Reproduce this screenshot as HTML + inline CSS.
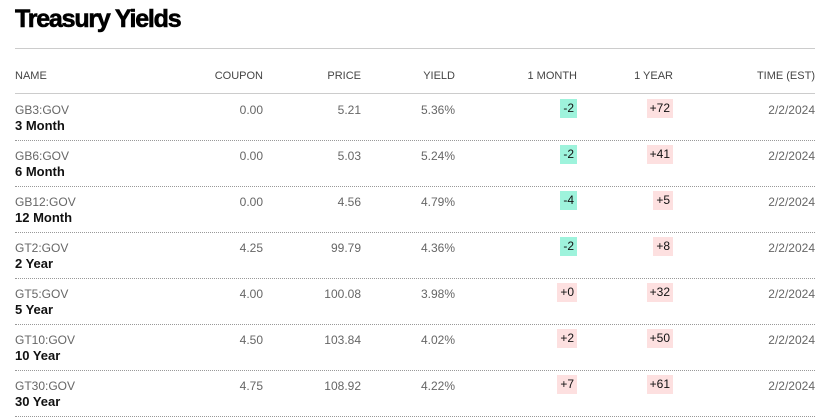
<!DOCTYPE html>
<html><head><style>
body{margin:0;width:829px;height:418px;background:#fff;font-family:"Liberation Sans",sans-serif;position:relative;overflow:hidden}
.t{position:absolute;left:15px;top:5px;font-size:25px;font-weight:bold;letter-spacing:-1.2px;color:#000;-webkit-text-stroke:0.6px #000}
.hl{position:absolute;left:15px;width:800px;height:0;border-top:1px solid #ccc}
.h{position:absolute;top:70px;font-size:11px;color:#444;text-align:right}
.row{position:absolute;left:15px;width:800px;height:46px;border-bottom:1px dotted #999}
.c{position:absolute;top:9px;font-size:12px;color:#666;text-align:right}
.tk{position:absolute;left:0;top:9px;font-size:12px;color:#666}
.nm{position:absolute;left:0;top:24px;font-size:13px;font-weight:bold;color:#111}
.b{position:absolute;top:5px;font-size:12px;color:#111;padding:3px 3px;line-height:13px}
.g{background:#9ef3dc}.r{background:#fde0e0}
</style></head><body>
<div class="t">Treasury Yields</div>
<div class="hl" style="top:48px"></div>
<div class="h" style="left:15px;text-align:left">NAME</div>
<div class="h" style="right:566px">COUPON</div>
<div class="h" style="right:468px">PRICE</div>
<div class="h" style="right:374px">YIELD</div>
<div class="h" style="right:252px">1 MONTH</div>
<div class="h" style="right:156px">1 YEAR</div>
<div class="h" style="right:14px">TIME (EST)</div>
<div class="hl" style="top:93px"></div>
<div id="rows"></div>
<script>
var d=[["GB3:GOV","3 Month","0.00","5.21","5.36%","-2","+72"],["GB6:GOV","6 Month","0.00","5.03","5.24%","-2","+41"],["GB12:GOV","12 Month","0.00","4.56","4.79%","-4","+5"],["GT2:GOV","2 Year","4.25","99.79","4.36%","-2","+8"],["GT5:GOV","5 Year","4.00","100.08","3.98%","+0","+32"],["GT10:GOV","10 Year","4.50","103.84","4.02%","+2","+50"],["GT30:GOV","30 Year","4.75","108.92","4.22%","+7","+61"]];
var h="";d.forEach(function(r,i){var t=94+i*46;
function cls(v){return v[0]=='-'?'g':'r'}
h+='<div class="row" style="top:'+t+'px"><div class="tk">'+r[0]+'</div><div class="nm">'+r[1]+'</div>'+
'<div class="c" style="right:552px">'+r[2]+'</div><div class="c" style="right:454px">'+r[3]+'</div><div class="c" style="right:360px">'+r[4]+'</div>'+
'<div class="b '+cls(r[5])+'" style="right:238px">'+r[5]+'</div><div class="b '+cls(r[6])+'" style="right:142px">'+r[6]+'</div>'+
'<div class="c" style="right:0">2/2/2024</div></div>';});
document.getElementById("rows").innerHTML=h;
</script>
</body></html>
